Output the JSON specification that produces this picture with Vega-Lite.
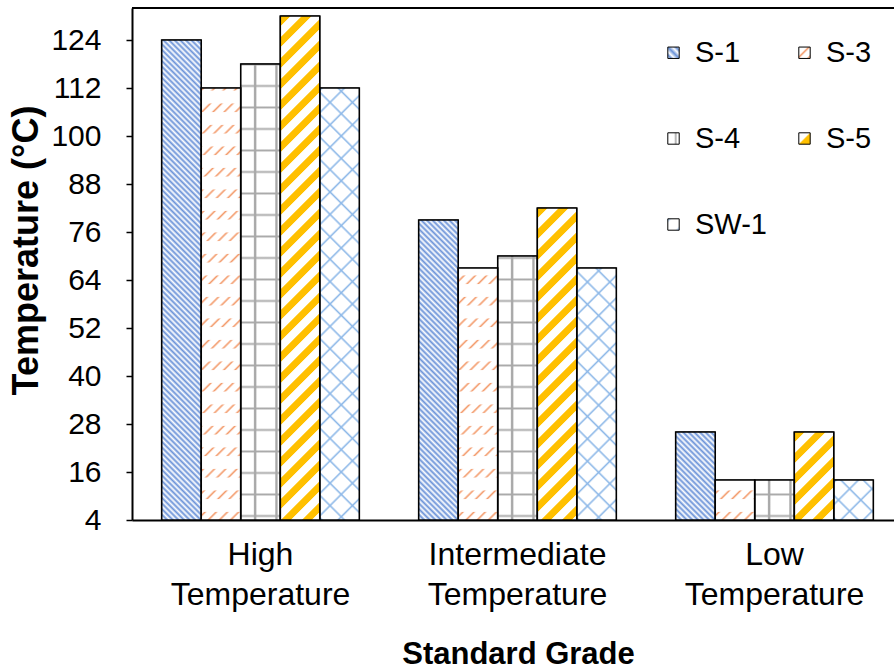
{
  "$schema": "https://vega.github.io/schema/vega-lite/v6.json",
  "width": 762,
  "height": 512,
  "autosize": "none",
  "padding": {"left": 132, "top": 8, "right": 0, "bottom": 150},
  "background": "white",
  "config": {"font": "Liberation Sans", "view": {"stroke": null}},
  "params": [
    {"name": "lg1", "value": {"gradient": "linear", "x1": 0, "y1": 1, "x2": 1, "y2": 0, "stops": [{"offset":0,"color":"#fff"},{"offset":0.15,"color":"#6a92d8"},{"offset":0.3,"color":"#fff"},{"offset":0.5,"color":"#6a92d8"},{"offset":0.7,"color":"#fff"},{"offset":0.85,"color":"#6a92d8"},{"offset":1,"color":"#fff"}]}},
    {"name": "lg3", "value": {"gradient": "linear", "x1": 0, "y1": 0, "x2": 1, "y2": 1, "stops": [{"offset":0,"color":"#fff"},{"offset":0.35,"color":"#fff"},{"offset":0.45,"color":"#f39a6a"},{"offset":0.55,"color":"#fff"},{"offset":0.8,"color":"#fff"},{"offset":0.9,"color":"#f39a6a"},{"offset":1,"color":"#fff"}]}},
    {"name": "lg4", "value": {"gradient": "linear", "x1": 0, "y1": 0, "x2": 1, "y2": 0, "stops": [{"offset":0,"color":"#fff"},{"offset":0.55,"color":"#fff"},{"offset":0.7,"color":"#a9a9a9"},{"offset":0.85,"color":"#fff"},{"offset":1,"color":"#fff"}]}},
    {"name": "lg5", "value": {"gradient": "linear", "x1": 0, "y1": 0, "x2": 1, "y2": 1, "stops": [{"offset":0,"color":"#fff"},{"offset":0.45,"color":"#fff"},{"offset":0.55,"color":"#ffc000"},{"offset":1,"color":"#ffc000"}]}},
    {"name": "lgw", "value": {"gradient": "linear", "x1": 0, "y1": 0, "x2": 1, "y2": 1, "stops": [{"offset":0,"color":"#8db8e8"},{"offset":0.2,"color":"#fff"},{"offset":0.8,"color":"#fff"},{"offset":1,"color":"#8db8e8"}]}},
    {"name": "st1", "value": [
      {"offset":0,"color":"#6a92d8"},{"offset":0.005,"color":"#fff"},{"offset":0.01,"color":"#6a92d8"},{"offset":0.015,"color":"#fff"},{"offset":0.02,"color":"#6a92d8"},{"offset":0.025,"color":"#fff"},{"offset":0.03,"color":"#6a92d8"},{"offset":0.035,"color":"#fff"},{"offset":0.04,"color":"#6a92d8"},{"offset":0.045,"color":"#fff"},
      {"offset":0.05,"color":"#6a92d8"},{"offset":0.055,"color":"#fff"},{"offset":0.06,"color":"#6a92d8"},{"offset":0.065,"color":"#fff"},{"offset":0.07,"color":"#6a92d8"},{"offset":0.075,"color":"#fff"},{"offset":0.08,"color":"#6a92d8"},{"offset":0.085,"color":"#fff"},{"offset":0.09,"color":"#6a92d8"},{"offset":0.095,"color":"#fff"},
      {"offset":0.1,"color":"#6a92d8"},{"offset":0.105,"color":"#fff"},{"offset":0.11,"color":"#6a92d8"},{"offset":0.115,"color":"#fff"},{"offset":0.12,"color":"#6a92d8"},{"offset":0.125,"color":"#fff"},{"offset":0.13,"color":"#6a92d8"},{"offset":0.135,"color":"#fff"},{"offset":0.14,"color":"#6a92d8"},{"offset":0.145,"color":"#fff"},
      {"offset":0.15,"color":"#6a92d8"},{"offset":0.155,"color":"#fff"},{"offset":0.16,"color":"#6a92d8"},{"offset":0.165,"color":"#fff"},{"offset":0.17,"color":"#6a92d8"},{"offset":0.175,"color":"#fff"},{"offset":0.18,"color":"#6a92d8"},{"offset":0.185,"color":"#fff"},{"offset":0.19,"color":"#6a92d8"},{"offset":0.195,"color":"#fff"},
      {"offset":0.2,"color":"#6a92d8"},{"offset":0.205,"color":"#fff"},{"offset":0.21,"color":"#6a92d8"},{"offset":0.215,"color":"#fff"},{"offset":0.22,"color":"#6a92d8"},{"offset":0.225,"color":"#fff"},{"offset":0.23,"color":"#6a92d8"},{"offset":0.235,"color":"#fff"},{"offset":0.24,"color":"#6a92d8"},{"offset":0.245,"color":"#fff"},
      {"offset":0.25,"color":"#6a92d8"},{"offset":0.255,"color":"#fff"},{"offset":0.26,"color":"#6a92d8"},{"offset":0.265,"color":"#fff"},{"offset":0.27,"color":"#6a92d8"},{"offset":0.275,"color":"#fff"},{"offset":0.28,"color":"#6a92d8"},{"offset":0.285,"color":"#fff"},{"offset":0.29,"color":"#6a92d8"},{"offset":0.295,"color":"#fff"},
      {"offset":0.3,"color":"#6a92d8"},{"offset":0.305,"color":"#fff"},{"offset":0.31,"color":"#6a92d8"},{"offset":0.315,"color":"#fff"},{"offset":0.32,"color":"#6a92d8"},{"offset":0.325,"color":"#fff"},{"offset":0.33,"color":"#6a92d8"},{"offset":0.335,"color":"#fff"},{"offset":0.34,"color":"#6a92d8"},{"offset":0.345,"color":"#fff"},
      {"offset":0.35,"color":"#6a92d8"},{"offset":0.355,"color":"#fff"},{"offset":0.36,"color":"#6a92d8"},{"offset":0.365,"color":"#fff"},{"offset":0.37,"color":"#6a92d8"},{"offset":0.375,"color":"#fff"},{"offset":0.38,"color":"#6a92d8"},{"offset":0.385,"color":"#fff"},{"offset":0.39,"color":"#6a92d8"},{"offset":0.395,"color":"#fff"},
      {"offset":0.4,"color":"#6a92d8"},{"offset":0.405,"color":"#fff"},{"offset":0.41,"color":"#6a92d8"},{"offset":0.415,"color":"#fff"},{"offset":0.42,"color":"#6a92d8"},{"offset":0.425,"color":"#fff"},{"offset":0.43,"color":"#6a92d8"},{"offset":0.435,"color":"#fff"},{"offset":0.44,"color":"#6a92d8"},{"offset":0.445,"color":"#fff"},
      {"offset":0.45,"color":"#6a92d8"},{"offset":0.455,"color":"#fff"},{"offset":0.46,"color":"#6a92d8"},{"offset":0.465,"color":"#fff"},{"offset":0.47,"color":"#6a92d8"},{"offset":0.475,"color":"#fff"},{"offset":0.48,"color":"#6a92d8"},{"offset":0.485,"color":"#fff"},{"offset":0.49,"color":"#6a92d8"},{"offset":0.495,"color":"#fff"},
      {"offset":0.5,"color":"#6a92d8"},{"offset":0.505,"color":"#fff"},{"offset":0.51,"color":"#6a92d8"},{"offset":0.515,"color":"#fff"},{"offset":0.52,"color":"#6a92d8"},{"offset":0.525,"color":"#fff"},{"offset":0.53,"color":"#6a92d8"},{"offset":0.535,"color":"#fff"},{"offset":0.54,"color":"#6a92d8"},{"offset":0.545,"color":"#fff"},
      {"offset":0.55,"color":"#6a92d8"},{"offset":0.555,"color":"#fff"},{"offset":0.56,"color":"#6a92d8"},{"offset":0.565,"color":"#fff"},{"offset":0.57,"color":"#6a92d8"},{"offset":0.575,"color":"#fff"},{"offset":0.58,"color":"#6a92d8"},{"offset":0.585,"color":"#fff"},{"offset":0.59,"color":"#6a92d8"},{"offset":0.595,"color":"#fff"},
      {"offset":0.6,"color":"#6a92d8"},{"offset":0.605,"color":"#fff"},{"offset":0.61,"color":"#6a92d8"},{"offset":0.615,"color":"#fff"},{"offset":0.62,"color":"#6a92d8"},{"offset":0.625,"color":"#fff"},{"offset":0.63,"color":"#6a92d8"},{"offset":0.635,"color":"#fff"},{"offset":0.64,"color":"#6a92d8"},{"offset":0.645,"color":"#fff"},
      {"offset":0.65,"color":"#6a92d8"},{"offset":0.655,"color":"#fff"},{"offset":0.66,"color":"#6a92d8"},{"offset":0.665,"color":"#fff"},{"offset":0.67,"color":"#6a92d8"},{"offset":0.675,"color":"#fff"},{"offset":0.68,"color":"#6a92d8"},{"offset":0.685,"color":"#fff"},{"offset":0.69,"color":"#6a92d8"},{"offset":0.695,"color":"#fff"},
      {"offset":0.7,"color":"#6a92d8"},{"offset":0.705,"color":"#fff"},{"offset":0.71,"color":"#6a92d8"},{"offset":0.715,"color":"#fff"},{"offset":0.72,"color":"#6a92d8"},{"offset":0.725,"color":"#fff"},{"offset":0.73,"color":"#6a92d8"},{"offset":0.735,"color":"#fff"},{"offset":0.74,"color":"#6a92d8"},{"offset":0.745,"color":"#fff"},
      {"offset":0.75,"color":"#6a92d8"},{"offset":0.755,"color":"#fff"},{"offset":0.76,"color":"#6a92d8"},{"offset":0.765,"color":"#fff"},{"offset":0.77,"color":"#6a92d8"},{"offset":0.775,"color":"#fff"},{"offset":0.78,"color":"#6a92d8"},{"offset":0.785,"color":"#fff"},{"offset":0.79,"color":"#6a92d8"},{"offset":0.795,"color":"#fff"},
      {"offset":0.8,"color":"#6a92d8"},{"offset":0.805,"color":"#fff"},{"offset":0.81,"color":"#6a92d8"},{"offset":0.815,"color":"#fff"},{"offset":0.82,"color":"#6a92d8"},{"offset":0.825,"color":"#fff"},{"offset":0.83,"color":"#6a92d8"},{"offset":0.835,"color":"#fff"},{"offset":0.84,"color":"#6a92d8"},{"offset":0.845,"color":"#fff"},
      {"offset":0.85,"color":"#6a92d8"},{"offset":0.855,"color":"#fff"},{"offset":0.86,"color":"#6a92d8"},{"offset":0.865,"color":"#fff"},{"offset":0.87,"color":"#6a92d8"},{"offset":0.875,"color":"#fff"},{"offset":0.88,"color":"#6a92d8"},{"offset":0.885,"color":"#fff"},{"offset":0.89,"color":"#6a92d8"},{"offset":0.895,"color":"#fff"},
      {"offset":0.9,"color":"#6a92d8"},{"offset":0.905,"color":"#fff"},{"offset":0.91,"color":"#6a92d8"},{"offset":0.915,"color":"#fff"},{"offset":0.92,"color":"#6a92d8"},{"offset":0.925,"color":"#fff"},{"offset":0.93,"color":"#6a92d8"},{"offset":0.935,"color":"#fff"},{"offset":0.94,"color":"#6a92d8"},{"offset":0.945,"color":"#fff"},
      {"offset":0.95,"color":"#6a92d8"},{"offset":0.955,"color":"#fff"},{"offset":0.96,"color":"#6a92d8"},{"offset":0.965,"color":"#fff"},{"offset":0.97,"color":"#6a92d8"},{"offset":0.975,"color":"#fff"}
    ]},
    {"name": "st5", "value": [
      {"offset":0,"color":"#fff"},{"offset":0.002,"color":"#ffc000"},{"offset":0.0175,"color":"#ffc000"},{"offset":0.0195,"color":"#fff"},
      {"offset":0.0375,"color":"#fff"},{"offset":0.0395,"color":"#ffc000"},{"offset":0.055,"color":"#ffc000"},{"offset":0.057,"color":"#fff"},
      {"offset":0.075,"color":"#fff"},{"offset":0.077,"color":"#ffc000"},{"offset":0.0925,"color":"#ffc000"},{"offset":0.0945,"color":"#fff"},
      {"offset":0.1125,"color":"#fff"},{"offset":0.1145,"color":"#ffc000"},{"offset":0.13,"color":"#ffc000"},{"offset":0.132,"color":"#fff"},
      {"offset":0.15,"color":"#fff"},{"offset":0.152,"color":"#ffc000"},{"offset":0.1675,"color":"#ffc000"},{"offset":0.1695,"color":"#fff"},
      {"offset":0.1875,"color":"#fff"},{"offset":0.1895,"color":"#ffc000"},{"offset":0.205,"color":"#ffc000"},{"offset":0.207,"color":"#fff"},
      {"offset":0.225,"color":"#fff"},{"offset":0.227,"color":"#ffc000"},{"offset":0.2425,"color":"#ffc000"},{"offset":0.2445,"color":"#fff"},
      {"offset":0.2625,"color":"#fff"},{"offset":0.2645,"color":"#ffc000"},{"offset":0.28,"color":"#ffc000"},{"offset":0.282,"color":"#fff"},
      {"offset":0.3,"color":"#fff"},{"offset":0.302,"color":"#ffc000"},{"offset":0.3175,"color":"#ffc000"},{"offset":0.3195,"color":"#fff"},
      {"offset":0.3375,"color":"#fff"},{"offset":0.3395,"color":"#ffc000"},{"offset":0.355,"color":"#ffc000"},{"offset":0.357,"color":"#fff"},
      {"offset":0.375,"color":"#fff"},{"offset":0.377,"color":"#ffc000"},{"offset":0.3925,"color":"#ffc000"},{"offset":0.3945,"color":"#fff"},
      {"offset":0.4125,"color":"#fff"},{"offset":0.4145,"color":"#ffc000"},{"offset":0.43,"color":"#ffc000"},{"offset":0.432,"color":"#fff"},
      {"offset":0.45,"color":"#fff"},{"offset":0.452,"color":"#ffc000"},{"offset":0.4675,"color":"#ffc000"},{"offset":0.4695,"color":"#fff"},
      {"offset":0.4875,"color":"#fff"},{"offset":0.4895,"color":"#ffc000"},{"offset":0.505,"color":"#ffc000"},{"offset":0.507,"color":"#fff"},
      {"offset":0.525,"color":"#fff"},{"offset":0.527,"color":"#ffc000"},{"offset":0.5425,"color":"#ffc000"},{"offset":0.5445,"color":"#fff"},
      {"offset":0.5625,"color":"#fff"},{"offset":0.5645,"color":"#ffc000"},{"offset":0.58,"color":"#ffc000"},{"offset":0.582,"color":"#fff"},
      {"offset":0.6,"color":"#fff"},{"offset":0.602,"color":"#ffc000"},{"offset":0.6175,"color":"#ffc000"},{"offset":0.6195,"color":"#fff"},
      {"offset":0.6375,"color":"#fff"},{"offset":0.6395,"color":"#ffc000"},{"offset":0.655,"color":"#ffc000"},{"offset":0.657,"color":"#fff"},
      {"offset":0.675,"color":"#fff"},{"offset":0.677,"color":"#ffc000"},{"offset":0.6925,"color":"#ffc000"},{"offset":0.6945,"color":"#fff"},
      {"offset":0.7125,"color":"#fff"},{"offset":0.7145,"color":"#ffc000"},{"offset":0.73,"color":"#ffc000"},{"offset":0.732,"color":"#fff"},
      {"offset":0.75,"color":"#fff"},{"offset":0.752,"color":"#ffc000"},{"offset":0.7675,"color":"#ffc000"},{"offset":0.7695,"color":"#fff"},
      {"offset":0.7875,"color":"#fff"},{"offset":0.7895,"color":"#ffc000"},{"offset":0.805,"color":"#ffc000"},{"offset":0.807,"color":"#fff"},
      {"offset":0.825,"color":"#fff"},{"offset":0.827,"color":"#ffc000"},{"offset":0.8425,"color":"#ffc000"},{"offset":0.8445,"color":"#fff"},
      {"offset":0.8625,"color":"#fff"},{"offset":0.8645,"color":"#ffc000"},{"offset":0.88,"color":"#ffc000"},{"offset":0.882,"color":"#fff"},
      {"offset":0.9,"color":"#fff"},{"offset":0.902,"color":"#ffc000"},{"offset":0.9175,"color":"#ffc000"},{"offset":0.9195,"color":"#fff"},
      {"offset":0.9375,"color":"#fff"},{"offset":0.9395,"color":"#ffc000"},{"offset":0.955,"color":"#ffc000"},{"offset":0.957,"color":"#fff"},
      {"offset":0.975,"color":"#fff"},{"offset":0.977,"color":"#ffc000"},{"offset":0.9925,"color":"#ffc000"},{"offset":0.9945,"color":"#fff"}
    ]},
    {"name": "st3", "value": [
      {"offset":0,"color":"#fff"},{"offset":0.004,"color":"#f39a6a"},{"offset":0.008,"color":"#fff"},
      {"offset":0.02,"color":"#fff"},{"offset":0.024,"color":"#f39a6a"},{"offset":0.028,"color":"#fff"},
      {"offset":0.04,"color":"#fff"},{"offset":0.044,"color":"#f39a6a"},{"offset":0.048,"color":"#fff"},
      {"offset":0.06,"color":"#fff"},{"offset":0.064,"color":"#f39a6a"},{"offset":0.068,"color":"#fff"},
      {"offset":0.08,"color":"#fff"},{"offset":0.084,"color":"#f39a6a"},{"offset":0.088,"color":"#fff"},
      {"offset":0.1,"color":"#fff"},{"offset":0.104,"color":"#f39a6a"},{"offset":0.108,"color":"#fff"},
      {"offset":0.12,"color":"#fff"},{"offset":0.124,"color":"#f39a6a"},{"offset":0.128,"color":"#fff"},
      {"offset":0.14,"color":"#fff"},{"offset":0.144,"color":"#f39a6a"},{"offset":0.148,"color":"#fff"},
      {"offset":0.16,"color":"#fff"},{"offset":0.164,"color":"#f39a6a"},{"offset":0.168,"color":"#fff"},
      {"offset":0.18,"color":"#fff"},{"offset":0.184,"color":"#f39a6a"},{"offset":0.188,"color":"#fff"},
      {"offset":0.2,"color":"#fff"},{"offset":0.204,"color":"#f39a6a"},{"offset":0.208,"color":"#fff"},
      {"offset":0.22,"color":"#fff"},{"offset":0.224,"color":"#f39a6a"},{"offset":0.228,"color":"#fff"},
      {"offset":0.24,"color":"#fff"},{"offset":0.244,"color":"#f39a6a"},{"offset":0.248,"color":"#fff"},
      {"offset":0.26,"color":"#fff"},{"offset":0.264,"color":"#f39a6a"},{"offset":0.268,"color":"#fff"},
      {"offset":0.28,"color":"#fff"},{"offset":0.284,"color":"#f39a6a"},{"offset":0.288,"color":"#fff"},
      {"offset":0.3,"color":"#fff"},{"offset":0.304,"color":"#f39a6a"},{"offset":0.308,"color":"#fff"},
      {"offset":0.32,"color":"#fff"},{"offset":0.324,"color":"#f39a6a"},{"offset":0.328,"color":"#fff"},
      {"offset":0.34,"color":"#fff"},{"offset":0.344,"color":"#f39a6a"},{"offset":0.348,"color":"#fff"},
      {"offset":0.36,"color":"#fff"},{"offset":0.364,"color":"#f39a6a"},{"offset":0.368,"color":"#fff"},
      {"offset":0.38,"color":"#fff"},{"offset":0.384,"color":"#f39a6a"},{"offset":0.388,"color":"#fff"},
      {"offset":0.4,"color":"#fff"},{"offset":0.404,"color":"#f39a6a"},{"offset":0.408,"color":"#fff"},
      {"offset":0.42,"color":"#fff"},{"offset":0.424,"color":"#f39a6a"},{"offset":0.428,"color":"#fff"},
      {"offset":0.44,"color":"#fff"},{"offset":0.444,"color":"#f39a6a"},{"offset":0.448,"color":"#fff"},
      {"offset":0.46,"color":"#fff"},{"offset":0.464,"color":"#f39a6a"},{"offset":0.468,"color":"#fff"},
      {"offset":0.48,"color":"#fff"},{"offset":0.484,"color":"#f39a6a"},{"offset":0.488,"color":"#fff"},
      {"offset":0.5,"color":"#fff"},{"offset":0.504,"color":"#f39a6a"},{"offset":0.508,"color":"#fff"},
      {"offset":0.52,"color":"#fff"},{"offset":0.524,"color":"#f39a6a"},{"offset":0.528,"color":"#fff"},
      {"offset":0.54,"color":"#fff"},{"offset":0.544,"color":"#f39a6a"},{"offset":0.548,"color":"#fff"},
      {"offset":0.56,"color":"#fff"},{"offset":0.564,"color":"#f39a6a"},{"offset":0.568,"color":"#fff"},
      {"offset":0.58,"color":"#fff"},{"offset":0.584,"color":"#f39a6a"},{"offset":0.588,"color":"#fff"},
      {"offset":0.6,"color":"#fff"},{"offset":0.604,"color":"#f39a6a"},{"offset":0.608,"color":"#fff"},
      {"offset":0.62,"color":"#fff"},{"offset":0.624,"color":"#f39a6a"},{"offset":0.628,"color":"#fff"},
      {"offset":0.64,"color":"#fff"},{"offset":0.644,"color":"#f39a6a"},{"offset":0.648,"color":"#fff"},
      {"offset":0.66,"color":"#fff"},{"offset":0.664,"color":"#f39a6a"},{"offset":0.668,"color":"#fff"},
      {"offset":0.68,"color":"#fff"},{"offset":0.684,"color":"#f39a6a"},{"offset":0.688,"color":"#fff"},
      {"offset":0.7,"color":"#fff"},{"offset":0.704,"color":"#f39a6a"},{"offset":0.708,"color":"#fff"},
      {"offset":0.72,"color":"#fff"},{"offset":0.724,"color":"#f39a6a"},{"offset":0.728,"color":"#fff"},
      {"offset":0.74,"color":"#fff"},{"offset":0.744,"color":"#f39a6a"},{"offset":0.748,"color":"#fff"},
      {"offset":0.76,"color":"#fff"},{"offset":0.764,"color":"#f39a6a"},{"offset":0.768,"color":"#fff"},
      {"offset":0.78,"color":"#fff"},{"offset":0.784,"color":"#f39a6a"},{"offset":0.788,"color":"#fff"},
      {"offset":0.8,"color":"#fff"},{"offset":0.804,"color":"#f39a6a"},{"offset":0.808,"color":"#fff"},
      {"offset":0.82,"color":"#fff"},{"offset":0.824,"color":"#f39a6a"},{"offset":0.828,"color":"#fff"},
      {"offset":0.84,"color":"#fff"},{"offset":0.844,"color":"#f39a6a"},{"offset":0.848,"color":"#fff"},
      {"offset":0.86,"color":"#fff"},{"offset":0.864,"color":"#f39a6a"},{"offset":0.868,"color":"#fff"},
      {"offset":0.88,"color":"#fff"},{"offset":0.884,"color":"#f39a6a"},{"offset":0.888,"color":"#fff"},
      {"offset":0.9,"color":"#fff"},{"offset":0.904,"color":"#f39a6a"},{"offset":0.908,"color":"#fff"},
      {"offset":0.92,"color":"#fff"},{"offset":0.924,"color":"#f39a6a"},{"offset":0.928,"color":"#fff"},
      {"offset":0.94,"color":"#fff"},{"offset":0.944,"color":"#f39a6a"},{"offset":0.948,"color":"#fff"},
      {"offset":0.96,"color":"#fff"},{"offset":0.964,"color":"#f39a6a"},{"offset":0.968,"color":"#fff"}
    ]},
    {"name": "st3b", "value": [
      {"offset":0,"color":"rgba(255,255,255,0)"},{"offset":0.014,"color":"rgba(255,255,255,0)"},{"offset":0.016,"color":"#fff"},{"offset":0.038,"color":"#fff"},
      {"offset":0.04,"color":"rgba(255,255,255,0)"},{"offset":0.054,"color":"rgba(255,255,255,0)"},{"offset":0.056,"color":"#fff"},{"offset":0.078,"color":"#fff"},
      {"offset":0.08,"color":"rgba(255,255,255,0)"},{"offset":0.094,"color":"rgba(255,255,255,0)"},{"offset":0.096,"color":"#fff"},{"offset":0.118,"color":"#fff"},
      {"offset":0.12,"color":"rgba(255,255,255,0)"},{"offset":0.134,"color":"rgba(255,255,255,0)"},{"offset":0.136,"color":"#fff"},{"offset":0.158,"color":"#fff"},
      {"offset":0.16,"color":"rgba(255,255,255,0)"},{"offset":0.174,"color":"rgba(255,255,255,0)"},{"offset":0.176,"color":"#fff"},{"offset":0.198,"color":"#fff"},
      {"offset":0.2,"color":"rgba(255,255,255,0)"},{"offset":0.214,"color":"rgba(255,255,255,0)"},{"offset":0.216,"color":"#fff"},{"offset":0.238,"color":"#fff"},
      {"offset":0.24,"color":"rgba(255,255,255,0)"},{"offset":0.254,"color":"rgba(255,255,255,0)"},{"offset":0.256,"color":"#fff"},{"offset":0.278,"color":"#fff"},
      {"offset":0.28,"color":"rgba(255,255,255,0)"},{"offset":0.294,"color":"rgba(255,255,255,0)"},{"offset":0.296,"color":"#fff"},{"offset":0.318,"color":"#fff"},
      {"offset":0.32,"color":"rgba(255,255,255,0)"},{"offset":0.334,"color":"rgba(255,255,255,0)"},{"offset":0.336,"color":"#fff"},{"offset":0.358,"color":"#fff"},
      {"offset":0.36,"color":"rgba(255,255,255,0)"},{"offset":0.374,"color":"rgba(255,255,255,0)"},{"offset":0.376,"color":"#fff"},{"offset":0.398,"color":"#fff"},
      {"offset":0.4,"color":"rgba(255,255,255,0)"},{"offset":0.414,"color":"rgba(255,255,255,0)"},{"offset":0.416,"color":"#fff"},{"offset":0.438,"color":"#fff"},
      {"offset":0.44,"color":"rgba(255,255,255,0)"},{"offset":0.454,"color":"rgba(255,255,255,0)"},{"offset":0.456,"color":"#fff"},{"offset":0.478,"color":"#fff"},
      {"offset":0.48,"color":"rgba(255,255,255,0)"},{"offset":0.494,"color":"rgba(255,255,255,0)"},{"offset":0.496,"color":"#fff"},{"offset":0.518,"color":"#fff"},
      {"offset":0.52,"color":"rgba(255,255,255,0)"},{"offset":0.534,"color":"rgba(255,255,255,0)"},{"offset":0.536,"color":"#fff"},{"offset":0.558,"color":"#fff"},
      {"offset":0.56,"color":"rgba(255,255,255,0)"},{"offset":0.574,"color":"rgba(255,255,255,0)"},{"offset":0.576,"color":"#fff"},{"offset":0.598,"color":"#fff"},
      {"offset":0.6,"color":"rgba(255,255,255,0)"},{"offset":0.614,"color":"rgba(255,255,255,0)"},{"offset":0.616,"color":"#fff"},{"offset":0.638,"color":"#fff"},
      {"offset":0.64,"color":"rgba(255,255,255,0)"},{"offset":0.654,"color":"rgba(255,255,255,0)"},{"offset":0.656,"color":"#fff"},{"offset":0.678,"color":"#fff"},
      {"offset":0.68,"color":"rgba(255,255,255,0)"},{"offset":0.694,"color":"rgba(255,255,255,0)"},{"offset":0.696,"color":"#fff"},{"offset":0.718,"color":"#fff"},
      {"offset":0.72,"color":"rgba(255,255,255,0)"},{"offset":0.734,"color":"rgba(255,255,255,0)"},{"offset":0.736,"color":"#fff"},{"offset":0.758,"color":"#fff"},
      {"offset":0.76,"color":"rgba(255,255,255,0)"},{"offset":0.774,"color":"rgba(255,255,255,0)"},{"offset":0.776,"color":"#fff"},{"offset":0.798,"color":"#fff"},
      {"offset":0.8,"color":"rgba(255,255,255,0)"},{"offset":0.814,"color":"rgba(255,255,255,0)"},{"offset":0.816,"color":"#fff"},{"offset":0.838,"color":"#fff"},
      {"offset":0.84,"color":"rgba(255,255,255,0)"},{"offset":0.854,"color":"rgba(255,255,255,0)"},{"offset":0.856,"color":"#fff"},{"offset":0.878,"color":"#fff"},
      {"offset":0.88,"color":"rgba(255,255,255,0)"},{"offset":0.894,"color":"rgba(255,255,255,0)"},{"offset":0.896,"color":"#fff"},{"offset":0.918,"color":"#fff"},
      {"offset":0.92,"color":"rgba(255,255,255,0)"},{"offset":0.934,"color":"rgba(255,255,255,0)"},{"offset":0.936,"color":"#fff"},{"offset":0.958,"color":"#fff"},
      {"offset":0.96,"color":"rgba(255,255,255,0)"},{"offset":0.974,"color":"rgba(255,255,255,0)"},{"offset":0.976,"color":"#fff"},{"offset":0.998,"color":"#fff"}
    ]},
    {"name": "swa", "value": [
      {"offset":0,"color":"#fff"},{"offset":0.004,"color":"#8db8e8"},{"offset":0.008,"color":"#fff"},
      {"offset":0.04,"color":"#fff"},{"offset":0.044,"color":"#8db8e8"},{"offset":0.048,"color":"#fff"},
      {"offset":0.08,"color":"#fff"},{"offset":0.084,"color":"#8db8e8"},{"offset":0.088,"color":"#fff"},
      {"offset":0.12,"color":"#fff"},{"offset":0.124,"color":"#8db8e8"},{"offset":0.128,"color":"#fff"},
      {"offset":0.16,"color":"#fff"},{"offset":0.164,"color":"#8db8e8"},{"offset":0.168,"color":"#fff"},
      {"offset":0.2,"color":"#fff"},{"offset":0.204,"color":"#8db8e8"},{"offset":0.208,"color":"#fff"},
      {"offset":0.24,"color":"#fff"},{"offset":0.244,"color":"#8db8e8"},{"offset":0.248,"color":"#fff"},
      {"offset":0.28,"color":"#fff"},{"offset":0.284,"color":"#8db8e8"},{"offset":0.288,"color":"#fff"},
      {"offset":0.32,"color":"#fff"},{"offset":0.324,"color":"#8db8e8"},{"offset":0.328,"color":"#fff"},
      {"offset":0.36,"color":"#fff"},{"offset":0.364,"color":"#8db8e8"},{"offset":0.368,"color":"#fff"},
      {"offset":0.4,"color":"#fff"},{"offset":0.404,"color":"#8db8e8"},{"offset":0.408,"color":"#fff"},
      {"offset":0.44,"color":"#fff"},{"offset":0.444,"color":"#8db8e8"},{"offset":0.448,"color":"#fff"},
      {"offset":0.48,"color":"#fff"},{"offset":0.484,"color":"#8db8e8"},{"offset":0.488,"color":"#fff"},
      {"offset":0.52,"color":"#fff"},{"offset":0.524,"color":"#8db8e8"},{"offset":0.528,"color":"#fff"},
      {"offset":0.56,"color":"#fff"},{"offset":0.564,"color":"#8db8e8"},{"offset":0.568,"color":"#fff"},
      {"offset":0.6,"color":"#fff"},{"offset":0.604,"color":"#8db8e8"},{"offset":0.608,"color":"#fff"},
      {"offset":0.64,"color":"#fff"},{"offset":0.644,"color":"#8db8e8"},{"offset":0.648,"color":"#fff"},
      {"offset":0.68,"color":"#fff"},{"offset":0.684,"color":"#8db8e8"},{"offset":0.688,"color":"#fff"},
      {"offset":0.72,"color":"#fff"},{"offset":0.724,"color":"#8db8e8"},{"offset":0.728,"color":"#fff"},
      {"offset":0.76,"color":"#fff"},{"offset":0.764,"color":"#8db8e8"},{"offset":0.768,"color":"#fff"},
      {"offset":0.8,"color":"#fff"},{"offset":0.804,"color":"#8db8e8"},{"offset":0.808,"color":"#fff"},
      {"offset":0.84,"color":"#fff"},{"offset":0.844,"color":"#8db8e8"},{"offset":0.848,"color":"#fff"},
      {"offset":0.88,"color":"#fff"},{"offset":0.884,"color":"#8db8e8"},{"offset":0.888,"color":"#fff"},
      {"offset":0.92,"color":"#fff"},{"offset":0.924,"color":"#8db8e8"},{"offset":0.928,"color":"#fff"},
      {"offset":0.96,"color":"#fff"},{"offset":0.964,"color":"#8db8e8"},{"offset":0.968,"color":"#fff"}
    ]},
    {"name": "swb", "value": [
      {"offset":0,"color":"rgba(141,184,232,0)"},{"offset":0.004,"color":"#8db8e8"},{"offset":0.008,"color":"rgba(141,184,232,0)"},
      {"offset":0.04,"color":"rgba(141,184,232,0)"},{"offset":0.044,"color":"#8db8e8"},{"offset":0.048,"color":"rgba(141,184,232,0)"},
      {"offset":0.08,"color":"rgba(141,184,232,0)"},{"offset":0.084,"color":"#8db8e8"},{"offset":0.088,"color":"rgba(141,184,232,0)"},
      {"offset":0.12,"color":"rgba(141,184,232,0)"},{"offset":0.124,"color":"#8db8e8"},{"offset":0.128,"color":"rgba(141,184,232,0)"},
      {"offset":0.16,"color":"rgba(141,184,232,0)"},{"offset":0.164,"color":"#8db8e8"},{"offset":0.168,"color":"rgba(141,184,232,0)"},
      {"offset":0.2,"color":"rgba(141,184,232,0)"},{"offset":0.204,"color":"#8db8e8"},{"offset":0.208,"color":"rgba(141,184,232,0)"},
      {"offset":0.24,"color":"rgba(141,184,232,0)"},{"offset":0.244,"color":"#8db8e8"},{"offset":0.248,"color":"rgba(141,184,232,0)"},
      {"offset":0.28,"color":"rgba(141,184,232,0)"},{"offset":0.284,"color":"#8db8e8"},{"offset":0.288,"color":"rgba(141,184,232,0)"},
      {"offset":0.32,"color":"rgba(141,184,232,0)"},{"offset":0.324,"color":"#8db8e8"},{"offset":0.328,"color":"rgba(141,184,232,0)"},
      {"offset":0.36,"color":"rgba(141,184,232,0)"},{"offset":0.364,"color":"#8db8e8"},{"offset":0.368,"color":"rgba(141,184,232,0)"},
      {"offset":0.4,"color":"rgba(141,184,232,0)"},{"offset":0.404,"color":"#8db8e8"},{"offset":0.408,"color":"rgba(141,184,232,0)"},
      {"offset":0.44,"color":"rgba(141,184,232,0)"},{"offset":0.444,"color":"#8db8e8"},{"offset":0.448,"color":"rgba(141,184,232,0)"},
      {"offset":0.48,"color":"rgba(141,184,232,0)"},{"offset":0.484,"color":"#8db8e8"},{"offset":0.488,"color":"rgba(141,184,232,0)"},
      {"offset":0.52,"color":"rgba(141,184,232,0)"},{"offset":0.524,"color":"#8db8e8"},{"offset":0.528,"color":"rgba(141,184,232,0)"},
      {"offset":0.56,"color":"rgba(141,184,232,0)"},{"offset":0.564,"color":"#8db8e8"},{"offset":0.568,"color":"rgba(141,184,232,0)"},
      {"offset":0.6,"color":"rgba(141,184,232,0)"},{"offset":0.604,"color":"#8db8e8"},{"offset":0.608,"color":"rgba(141,184,232,0)"},
      {"offset":0.64,"color":"rgba(141,184,232,0)"},{"offset":0.644,"color":"#8db8e8"},{"offset":0.648,"color":"rgba(141,184,232,0)"},
      {"offset":0.68,"color":"rgba(141,184,232,0)"},{"offset":0.684,"color":"#8db8e8"},{"offset":0.688,"color":"rgba(141,184,232,0)"},
      {"offset":0.72,"color":"rgba(141,184,232,0)"},{"offset":0.724,"color":"#8db8e8"},{"offset":0.728,"color":"rgba(141,184,232,0)"},
      {"offset":0.76,"color":"rgba(141,184,232,0)"},{"offset":0.764,"color":"#8db8e8"},{"offset":0.768,"color":"rgba(141,184,232,0)"},
      {"offset":0.8,"color":"rgba(141,184,232,0)"},{"offset":0.804,"color":"#8db8e8"},{"offset":0.808,"color":"rgba(141,184,232,0)"},
      {"offset":0.84,"color":"rgba(141,184,232,0)"},{"offset":0.844,"color":"#8db8e8"},{"offset":0.848,"color":"rgba(141,184,232,0)"},
      {"offset":0.88,"color":"rgba(141,184,232,0)"},{"offset":0.884,"color":"#8db8e8"},{"offset":0.888,"color":"rgba(141,184,232,0)"},
      {"offset":0.92,"color":"rgba(141,184,232,0)"},{"offset":0.924,"color":"#8db8e8"},{"offset":0.928,"color":"rgba(141,184,232,0)"},
      {"offset":0.96,"color":"rgba(141,184,232,0)"},{"offset":0.964,"color":"#8db8e8"},{"offset":0.968,"color":"rgba(141,184,232,0)"}
    ]},
    {"name": "s4a", "value": [
      {"offset":0,"color":"#fff"},{"offset":0.21,"color":"#fff"},{"offset":0.23,"color":"#a9a9a9"},{"offset":0.25,"color":"#a9a9a9"},{"offset":0.27,"color":"#fff"},
      {"offset":0.565,"color":"#fff"},{"offset":0.585,"color":"#a9a9a9"},{"offset":0.605,"color":"#a9a9a9"},{"offset":0.625,"color":"#fff"},{"offset":1,"color":"#fff"}
    ]},
    {"name": "s4b", "value": [
      {"offset":0.004,"color":"rgba(169,169,169,0)"},{"offset":0.0075,"color":"#a9a9a9"},{"offset":0.011,"color":"rgba(169,169,169,0)"},
      {"offset":0.044,"color":"rgba(169,169,169,0)"},{"offset":0.0475,"color":"#a9a9a9"},{"offset":0.051,"color":"rgba(169,169,169,0)"},
      {"offset":0.084,"color":"rgba(169,169,169,0)"},{"offset":0.0875,"color":"#a9a9a9"},{"offset":0.091,"color":"rgba(169,169,169,0)"},
      {"offset":0.124,"color":"rgba(169,169,169,0)"},{"offset":0.1275,"color":"#a9a9a9"},{"offset":0.131,"color":"rgba(169,169,169,0)"},
      {"offset":0.164,"color":"rgba(169,169,169,0)"},{"offset":0.1675,"color":"#a9a9a9"},{"offset":0.171,"color":"rgba(169,169,169,0)"},
      {"offset":0.204,"color":"rgba(169,169,169,0)"},{"offset":0.2075,"color":"#a9a9a9"},{"offset":0.211,"color":"rgba(169,169,169,0)"},
      {"offset":0.244,"color":"rgba(169,169,169,0)"},{"offset":0.2475,"color":"#a9a9a9"},{"offset":0.251,"color":"rgba(169,169,169,0)"},
      {"offset":0.284,"color":"rgba(169,169,169,0)"},{"offset":0.2875,"color":"#a9a9a9"},{"offset":0.291,"color":"rgba(169,169,169,0)"},
      {"offset":0.324,"color":"rgba(169,169,169,0)"},{"offset":0.3275,"color":"#a9a9a9"},{"offset":0.331,"color":"rgba(169,169,169,0)"},
      {"offset":0.364,"color":"rgba(169,169,169,0)"},{"offset":0.3675,"color":"#a9a9a9"},{"offset":0.371,"color":"rgba(169,169,169,0)"},
      {"offset":0.404,"color":"rgba(169,169,169,0)"},{"offset":0.4075,"color":"#a9a9a9"},{"offset":0.411,"color":"rgba(169,169,169,0)"},
      {"offset":0.444,"color":"rgba(169,169,169,0)"},{"offset":0.4475,"color":"#a9a9a9"},{"offset":0.451,"color":"rgba(169,169,169,0)"},
      {"offset":0.484,"color":"rgba(169,169,169,0)"},{"offset":0.4875,"color":"#a9a9a9"},{"offset":0.491,"color":"rgba(169,169,169,0)"},
      {"offset":0.524,"color":"rgba(169,169,169,0)"},{"offset":0.5275,"color":"#a9a9a9"},{"offset":0.531,"color":"rgba(169,169,169,0)"},
      {"offset":0.564,"color":"rgba(169,169,169,0)"},{"offset":0.5675,"color":"#a9a9a9"},{"offset":0.571,"color":"rgba(169,169,169,0)"},
      {"offset":0.604,"color":"rgba(169,169,169,0)"},{"offset":0.6075,"color":"#a9a9a9"},{"offset":0.611,"color":"rgba(169,169,169,0)"},
      {"offset":0.644,"color":"rgba(169,169,169,0)"},{"offset":0.6475,"color":"#a9a9a9"},{"offset":0.651,"color":"rgba(169,169,169,0)"},
      {"offset":0.684,"color":"rgba(169,169,169,0)"},{"offset":0.6875,"color":"#a9a9a9"},{"offset":0.691,"color":"rgba(169,169,169,0)"},
      {"offset":0.724,"color":"rgba(169,169,169,0)"},{"offset":0.7275,"color":"#a9a9a9"},{"offset":0.731,"color":"rgba(169,169,169,0)"},
      {"offset":0.764,"color":"rgba(169,169,169,0)"},{"offset":0.7675,"color":"#a9a9a9"},{"offset":0.771,"color":"rgba(169,169,169,0)"},
      {"offset":0.804,"color":"rgba(169,169,169,0)"},{"offset":0.8075,"color":"#a9a9a9"},{"offset":0.811,"color":"rgba(169,169,169,0)"},
      {"offset":0.844,"color":"rgba(169,169,169,0)"},{"offset":0.8475,"color":"#a9a9a9"},{"offset":0.851,"color":"rgba(169,169,169,0)"},
      {"offset":0.884,"color":"rgba(169,169,169,0)"},{"offset":0.8875,"color":"#a9a9a9"},{"offset":0.891,"color":"rgba(169,169,169,0)"},
      {"offset":0.924,"color":"rgba(169,169,169,0)"},{"offset":0.9275,"color":"#a9a9a9"},{"offset":0.931,"color":"rgba(169,169,169,0)"},
      {"offset":0.964,"color":"rgba(169,169,169,0)"},{"offset":0.9675,"color":"#a9a9a9"},{"offset":0.971,"color":"rgba(169,169,169,0)"}
    ]}
  ],
  "data": {"values": [
    {"grade": "High Temperature", "series": "S-1", "temp": 124},
    {"grade": "High Temperature", "series": "S-3", "temp": 112},
    {"grade": "High Temperature", "series": "S-4", "temp": 118},
    {"grade": "High Temperature", "series": "S-5", "temp": 130},
    {"grade": "High Temperature", "series": "SW-1", "temp": 112},
    {"grade": "Intermediate Temperature", "series": "S-1", "temp": 79},
    {"grade": "Intermediate Temperature", "series": "S-3", "temp": 67},
    {"grade": "Intermediate Temperature", "series": "S-4", "temp": 70},
    {"grade": "Intermediate Temperature", "series": "S-5", "temp": 82},
    {"grade": "Intermediate Temperature", "series": "SW-1", "temp": 67},
    {"grade": "Low Temperature", "series": "S-1", "temp": 26},
    {"grade": "Low Temperature", "series": "S-3", "temp": 14},
    {"grade": "Low Temperature", "series": "S-4", "temp": 14},
    {"grade": "Low Temperature", "series": "S-5", "temp": 26},
    {"grade": "Low Temperature", "series": "SW-1", "temp": 14}
  ]},
  "layer": [
    {
      "encoding": {
        "x": {
          "field": "grade", "type": "nominal", "sort": null,
          "scale": {"range": [0, 771], "paddingInner": 0.231, "paddingOuter": 0.1155},
          "axis": {
            "title": "Standard Grade", "titleFontSize": 31, "titleFontWeight": "bold", "titleColor": "#000",
            "titleX": 386, "titleY": 143, "titleAlign": "center", "titleBaseline": "alphabetic",
            "labelExpr": "split(datum.label, ' ')", "labelFontSize": 32, "labelLineHeight": 40,
            "labelColor": "#000", "labelPadding": 19, "labelAngle": 0, "labelLimit": 400,
            "ticks": false, "tickSize": 0, "domainColor": "#000", "domainWidth": 2
          }
        },
        "xOffset": {"field": "series", "type": "nominal", "scale": {"paddingInner": 0, "paddingOuter": 0}},
        "y": {
          "field": "temp", "type": "quantitative",
          "scale": {"domain": [4, 132], "nice": false, "zero": false},
          "axis": {
            "title": "Temperature (°C)", "titleFontSize": 36, "titleFontWeight": "bold", "titleColor": "#000",
            "titleX": -95, "titleY": 242, "titleAlign": "center", "titleBaseline": "alphabetic",
            "values": [4, 16, 28, 40, 52, 64, 76, 88, 100, 112, 124],
            "labelFontSize": 30, "labelColor": "#000", "labelPadding": 25,
            "tickSize": 6, "tickColor": "#000", "tickWidth": 1.5,
            "domainColor": "#000", "domainWidth": 2, "grid": false
          }
        },
        "y2": {"datum": 4}
      },
      "layer": [
        {
          "mark": {"type": "bar", "stroke": "#000", "strokeWidth": 1},
          "encoding": {
            "fill": {
              "field": "series", "type": "nominal",
              "scale": {"range": [{"expr": "lg1"}, {"expr": "lg3"}, {"expr": "lg4"}, {"expr": "lg5"}, {"expr": "lgw"}]},
              "legend": {
                "orient": "none", "legendX": 527, "legendY": 30, "columns": 2, "direction": "horizontal", "title": null,
                "labelFontSize": 29, "labelColor": "#000", "labelOffset": 7,
                "symbolType": "square", "symbolSize": 130, "symbolStrokeColor": "#000", "symbolStrokeWidth": 1,
                "rowPadding": 56, "columnPadding": 23, "padding": 0
              }
            }
          }
        },
        {
          "mark": {"type": "bar", "fill": {"expr": "datum.series==='S-4' ? {gradient:'linear',x1:0,y1:0,x2:60/bandwidth('xOffset'),y2:0,stops:s4a} : datum.series==='S-1' ? {gradient:'linear',x1:0,y1:1,x2:560*bandwidth('xOffset')/(bandwidth('xOffset')*bandwidth('xOffset')+(height-scale('y',datum.temp))*(height-scale('y',datum.temp))),y2:1-560*(height-scale('y',datum.temp))/(bandwidth('xOffset')*bandwidth('xOffset')+(height-scale('y',datum.temp))*(height-scale('y',datum.temp))),stops:st1} : {gradient:'linear',x1:0,y1:0,x2:560*bandwidth('xOffset')/(bandwidth('xOffset')*bandwidth('xOffset')+(height-scale('y',datum.temp))*(height-scale('y',datum.temp))),y2:560*(height-scale('y',datum.temp))/(bandwidth('xOffset')*bandwidth('xOffset')+(height-scale('y',datum.temp))*(height-scale('y',datum.temp))),stops:(datum.series==='S-3'?st3:(datum.series==='S-5'?st5:swa))}"}}
        },
        {
          "mark": {"type": "bar", "fill": {"expr": "datum.series==='SW-1' ? {gradient:'linear',x1:0,y1:1,x2:560*bandwidth('xOffset')/(bandwidth('xOffset')*bandwidth('xOffset')+(height-scale('y',datum.temp))*(height-scale('y',datum.temp))),y2:1-560*(height-scale('y',datum.temp))/(bandwidth('xOffset')*bandwidth('xOffset')+(height-scale('y',datum.temp))*(height-scale('y',datum.temp))),stops:swb} : ((datum.series==='S-3' || datum.series==='S-4') ? {gradient:'linear',x1:0,y1:1,x2:0.000001,y2:1-537.5/(height-scale('y',datum.temp)),stops:(datum.series==='S-3'?st3b:s4b)} : 'transparent')"}}
        },
        {
          "mark": {"type": "bar", "fill": "transparent", "stroke": "#000", "strokeWidth": 1.6}
        }
      ]
    },
    {
      "data": {"values": [{}]},
      "mark": {"type": "rule", "color": "#000", "strokeWidth": 2},
      "encoding": {"y": {"datum": 132}}
    }
  ]
}
